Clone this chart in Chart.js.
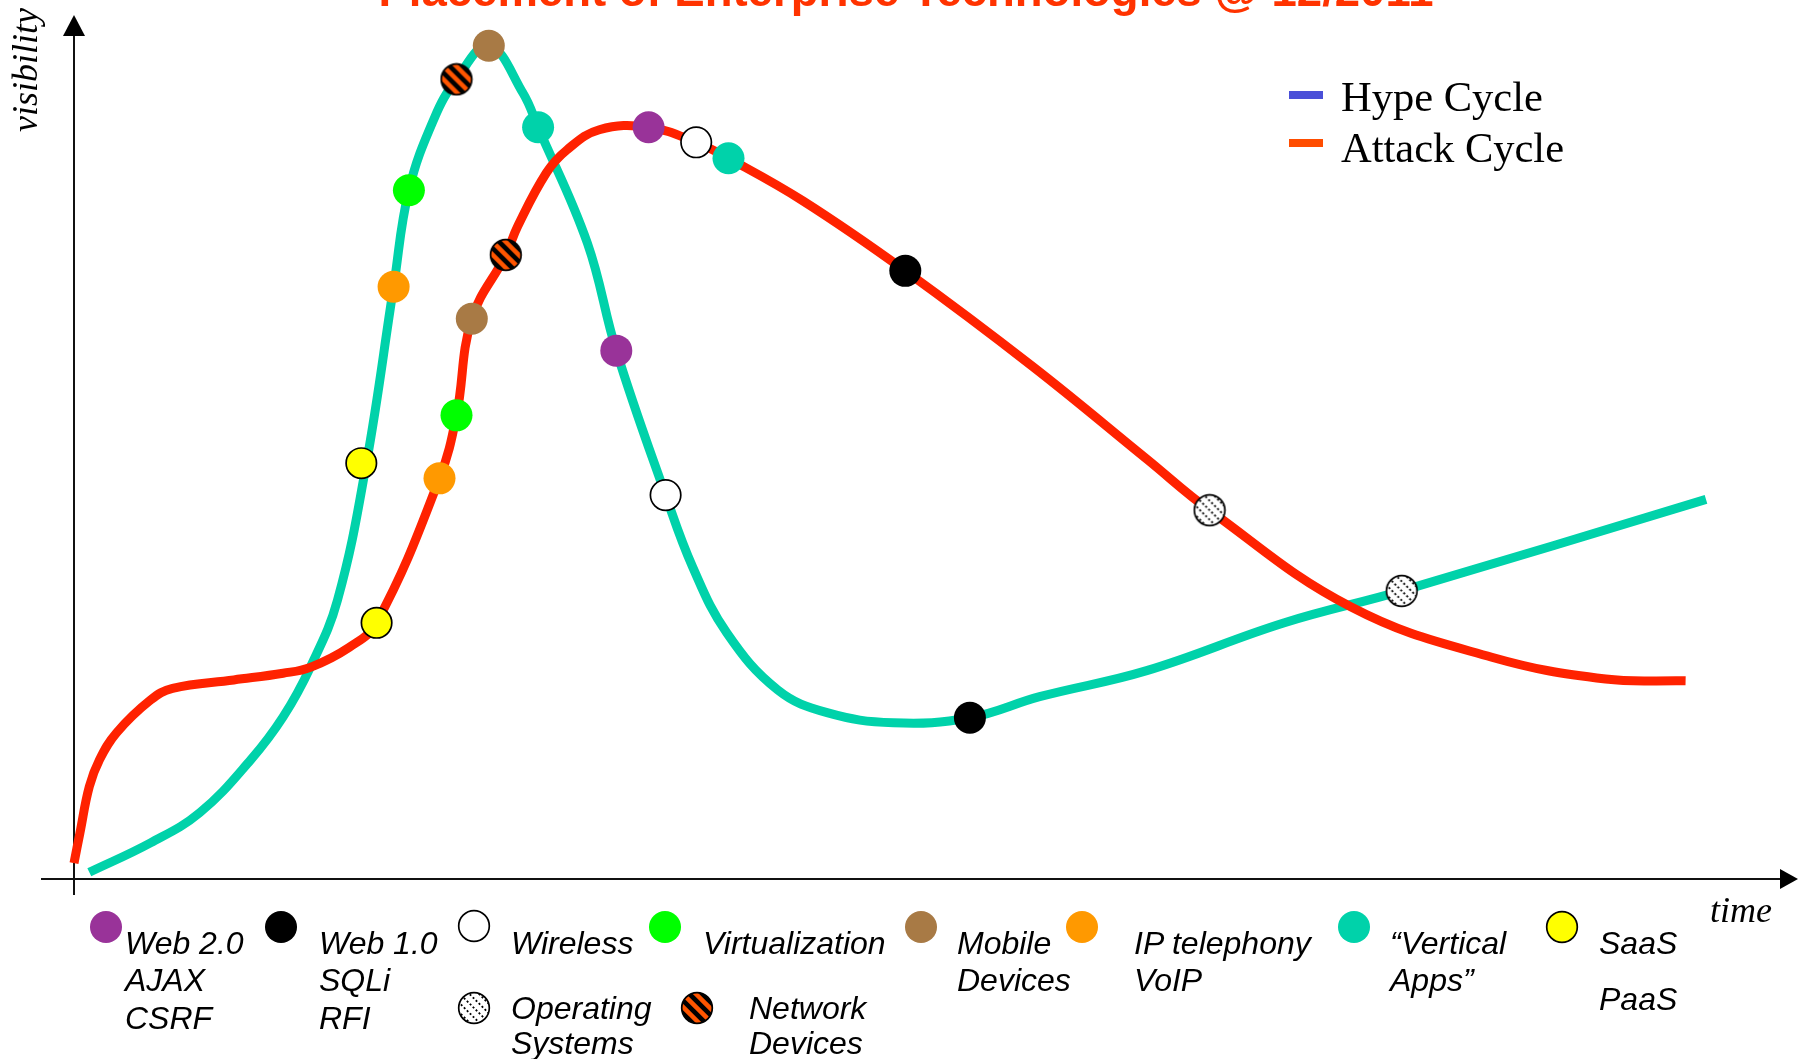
<!DOCTYPE html>
<html>
<head>
<meta charset="utf-8">
<title>Hype Cycle vs Attack Cycle</title>
<script src="https://cdn.jsdelivr.net/npm/chart.js@4.4.1/dist/chart.umd.min.js"></script>
<style>
  html, body { margin: 0; padding: 0; background: #fff; overflow: hidden; }
  #wrap { position: relative; width: 1798px; height: 1059px; overflow: hidden; }
  #chart { position: absolute; left: 0; top: 0; }
  .txt { position: absolute; white-space: nowrap; line-height: 1; color: #000; }
  .title { font: bold 45.5px "Liberation Sans", Arial, sans-serif; color: #ff3300; transform: translateX(-50%); }
  .serif { font-family: "Liberation Serif", "Times New Roman", serif; }
  .item { font: italic 32px "Liberation Sans", Arial, sans-serif; }
  .dash { position: absolute; width: 34px; height: 8px; }
  .icon { position: absolute; }
</style>
</head>
<body>
<div id="wrap">
  <canvas id="chart" width="1798" height="1059"></canvas>
</div>
<script>
// Hype cycle (teal curve): time / visibility, 0..100 on both axes
const hypeTime = [0.9, 4.5, 7.4, 10.4, 12.3, 13.9, 15.5, 17.2, 18.8, 19.7, 21.2, 22.5, 24.4, 26.4, 27.3, 30.2, 31.9, 34.8, 36.4, 38.4, 41.4, 44.3, 48.2, 52.7, 56.8, 63.1, 71.2, 78.1, 96.0];
const hypeVis = [0.8, 4.3, 7.9, 14.2, 19.3, 25.2, 33.2, 49.5, 70.5, 82.0, 90.6, 95.2, 99.2, 93.6, 89.5, 75.7, 62.9, 45.7, 37.1, 29.3, 22.5, 19.8, 18.6, 19.2, 21.7, 24.8, 30.5, 34.3, 45.2];

// Attack cycle (red curve)
const attackTime = [0, 0.35, 0.9, 1.5, 2.5, 4.5, 5.8, 9.4, 12.3, 13.9, 16.2, 17.8, 21.5, 22.5, 23.4, 25.4, 26.1, 27.8, 29.0, 30.9, 33.8, 36.6, 38.5, 42.9, 48.9, 56.4, 63.1, 66.8, 75.1, 83.4, 90.1, 94.8];
const attackVis = [1.9, 5.5, 11.0, 14.2, 17.4, 21.3, 22.7, 23.7, 24.5, 25.2, 27.6, 30.5, 47.7, 55.2, 66.7, 74.3, 77.7, 84.1, 86.8, 89.2, 89.5, 87.7, 85.8, 80.7, 72.4, 61.0, 50.0, 43.9, 32.4, 26.4, 23.8, 23.6];

// technologies placed on each cycle
const hypeMarkTech = ['saas', 'ip', 'virt', 'net', 'mobile', 'vertical', 'web2', 'wireless', 'web1', 'os'];
const hypeMarkTime = [16.9, 18.8, 19.7, 22.5, 24.4, 27.3, 31.9, 34.8, 52.7, 78.1];
const hypeMarkVis = [49.5, 70.5, 82.0, 95.2, 99.2, 89.5, 62.9, 45.7, 19.2, 34.3];

const attackMarkTech = ['saas', 'ip', 'virt', 'mobile', 'net', 'web2', 'wireless', 'vertical', 'web1', 'os'];
const attackMarkTime = [17.8, 21.5, 22.5, 23.4, 25.4, 33.8, 36.6, 38.5, 48.9, 66.8];
const attackMarkVis = [30.5, 47.7, 55.2, 66.7, 74.3, 89.5, 87.7, 85.8, 72.4, 43.9];

// legend below the axis
const techKeys = ['web2', 'web1', 'wireless', 'virt', 'os', 'net', 'mobile', 'ip', 'vertical', 'saas'];
const techLabels = [
  ['Web 2.0', 'AJAX', 'CSRF'],
  ['Web 1.0', 'SQLi', 'RFI'],
  ['Wireless'],
  ['Virtualization'],
  ['Operating', 'Systems'],
  ['Network', 'Devices'],
  ['Mobile', 'Devices'],
  ['IP telephony', 'VoIP'],
  ['\u201cVertical', 'Apps\u201d'],
  ['SaaS', 'PaaS']
];

const TEAL = '#00d2aa';
const RED = '#ff2200';

const techStyle = {
  web2: { fill: '#993399' },
  web1: { fill: '#000000' },
  wireless: { fill: '#ffffff', border: true },
  virt: { fill: '#00ff00' },
  os: { pattern: 'dots' },
  net: { pattern: 'stripes' },
  mobile: { fill: '#a87a45' },
  ip: { fill: '#ff9900' },
  vertical: { fill: TEAL },
  saas: { fill: '#ffff00', border: true }
};

// round marker drawn into a small canvas (used for patterned points and for the legend)
function makeIcon(key) {
  const size = 34, m = 17, r = 15.3;
  const c = document.createElement('canvas');
  c.width = c.height = size;
  const g = c.getContext('2d');
  const st = techStyle[key];
  g.save();
  g.beginPath();
  g.arc(m, m, r + (st.fill && !st.border ? 0.7 : 0), 0, Math.PI * 2);
  g.clip();
  if (st.pattern === 'stripes') {
    g.fillStyle = '#000';
    g.fillRect(0, 0, size, size);
    g.strokeStyle = '#ff5500';
    g.lineWidth = 4.5;
    [-13, 0, 13].forEach(d => {
      g.beginPath(); g.moveTo(-5, -5 + d); g.lineTo(40, 40 + d); g.stroke();
    });
  } else if (st.pattern === 'dots') {
    g.fillStyle = '#fff';
    g.fillRect(0, 0, size, size);
    g.strokeStyle = '#000';
    g.lineWidth = 1.8;
    g.setLineDash([2, 2.2]);
    [-19, -9.5, 0, 9.5, 19].forEach(d => {
      g.beginPath(); g.moveTo(-5, -5 + d); g.lineTo(40, 40 + d); g.stroke();
    });
  } else {
    g.fillStyle = st.fill;
    g.fillRect(0, 0, size, size);
  }
  g.restore();
  if (st.pattern || st.border) {
    g.beginPath();
    g.arc(m, m, r, 0, Math.PI * 2);
    g.lineWidth = 1.7;
    g.strokeStyle = '#000';
    g.stroke();
  }
  return c;
}

function markerDataset(key) {
  const pts = [];
  hypeMarkTech.forEach((t, i) => { if (t === key) pts.push({ x: hypeMarkTime[i], y: hypeMarkVis[i] }); });
  attackMarkTech.forEach((t, i) => { if (t === key) pts.push({ x: attackMarkTime[i], y: attackMarkVis[i] }); });
  const st = techStyle[key];
  return {
    type: 'scatter',
    label: key,
    data: pts,
    order: 1,
    clip: false,
    pointStyle: st.pattern ? makeIcon(key) : 'circle',
    pointRadius: st.border ? 15.2 : 16,
    pointBackgroundColor: st.fill || '#fff',
    pointBorderColor: '#000',
    pointBorderWidth: st.border ? 1.7 : 0
  };
}

// axes with arrow heads, positioned from the scales
const axisArrows = {
  id: 'axisArrows',
  beforeDatasetsDraw(chart) {
    const { ctx, scales: { x, y } } = chart;
    const x0 = x.getPixelForValue(0);
    const y0 = y.getPixelForValue(0);
    ctx.save();
    ctx.strokeStyle = '#111';
    ctx.fillStyle = '#000';
    ctx.lineWidth = 2;
    ctx.beginPath();
    ctx.moveTo(41, y0); ctx.lineTo(1784, y0);
    ctx.moveTo(x0, y0 + 16); ctx.lineTo(x0, 34);
    ctx.stroke();
    ctx.beginPath();
    ctx.moveTo(1798, y0); ctx.lineTo(1780, y0 - 10); ctx.lineTo(1780, y0 + 10); ctx.closePath();
    ctx.fill();
    ctx.beginPath();
    ctx.moveTo(x0, 15); ctx.lineTo(x0 - 11, 36); ctx.lineTo(x0 + 11, 36); ctx.closePath();
    ctx.fill();
    ctx.restore();
  }
};

const datasets = [
  {
    type: 'line',
    label: 'Hype Cycle',
    data: hypeTime.map((t, i) => ({ x: t, y: hypeVis[i] })),
    borderColor: TEAL,
    borderWidth: 9,
    pointRadius: 0,
    tension: 0.4,
    fill: false,
    clip: false,
    order: 3
  },
  {
    type: 'line',
    label: 'Attack Cycle',
    data: attackTime.map((t, i) => ({ x: t, y: attackVis[i] })),
    borderColor: RED,
    borderWidth: 9,
    pointRadius: 0,
    tension: 0.4,
    fill: false,
    clip: false,
    order: 2
  },
  ...techKeys.map(markerDataset)
];

new Chart(document.getElementById('chart'), {
  type: 'scatter',
  data: { datasets },
  options: {
    responsive: false,
    animation: false,
    events: [],
    layout: { autoPadding: false, padding: { left: 74, right: 24, top: 39, bottom: 180 } },
    scales: {
      x: { type: 'linear', min: 0, max: 100, display: false },
      y: { type: 'linear', min: 0, max: 100, display: false }
    },
    plugins: { legend: { display: false }, tooltip: { enabled: false } }
  },
  plugins: [axisArrows]
});

// ---- texts and legends ----
const wrap = document.getElementById('wrap');

// baseline sits at 0.8465em (Liberation Sans) / 0.8375em (Liberation Serif) with line-height 1
function put(text, cls, left, baseline, size, serif) {
  const el = document.createElement('div');
  el.className = 'txt ' + cls;
  el.textContent = text;
  el.style.left = left + 'px';
  el.style.top = (baseline - size * (serif ? 0.8375 : 0.8465)) + 'px';
  el.style.fontSize = size + 'px';
  wrap.appendChild(el);
  return el;
}

put('Placement of Enterprise Technologies @ 12/2011', 'title', 906, 4, 45.5, false);

const yLabel = put('visibility', 'serif', 7, 0, 36, true);
yLabel.style.top = '132px';
yLabel.style.fontStyle = 'italic';
yLabel.style.transformOrigin = '0 0';
yLabel.style.transform = 'rotate(-90deg)';

put('time', 'serif', 1710, 922, 36, true).style.fontStyle = 'italic';

// series legend, top right
const seriesNames = ['Hype Cycle', 'Attack Cycle'];
const seriesKeyColors = ['#4a4fd8', '#ff4d00'];
seriesNames.forEach((name, i) => {
  const d = document.createElement('div');
  d.className = 'dash';
  d.style.left = '1289px';
  d.style.top = (91 + i * 48) + 'px';
  d.style.background = seriesKeyColors[i];
  wrap.appendChild(d);
  put(name, 'serif', 1341, 112 + i * 51, 42.5, true);
});

// technology legend: icon centre, text left, first baseline, line step
const legendPos = [
  [106, 927, 125, 952, 37.5],
  [281, 927, 319, 952, 37.5],
  [474, 926, 511, 952, 37.5],
  [665, 927, 703, 952, 37.5],
  [474, 1008, 511, 1017, 35],
  [697, 1008, 749, 1017, 35],
  [921, 927, 957, 952, 37],
  [1082, 927, 1134, 952, 37],
  [1354, 927, 1390, 952, 37],
  [1562, 927, 1599, 952, 56]
];
techKeys.forEach((key, i) => {
  const [cx, cy, tx, base, step] = legendPos[i];
  const icon = makeIcon(key);
  icon.className = 'icon';
  icon.style.left = (cx - 17) + 'px';
  icon.style.top = (cy - 17) + 'px';
  wrap.appendChild(icon);
  techLabels[i].forEach((line, j) => put(line, 'item', tx, base + j * step, 32, false));
});
</script>
</body>
</html>
